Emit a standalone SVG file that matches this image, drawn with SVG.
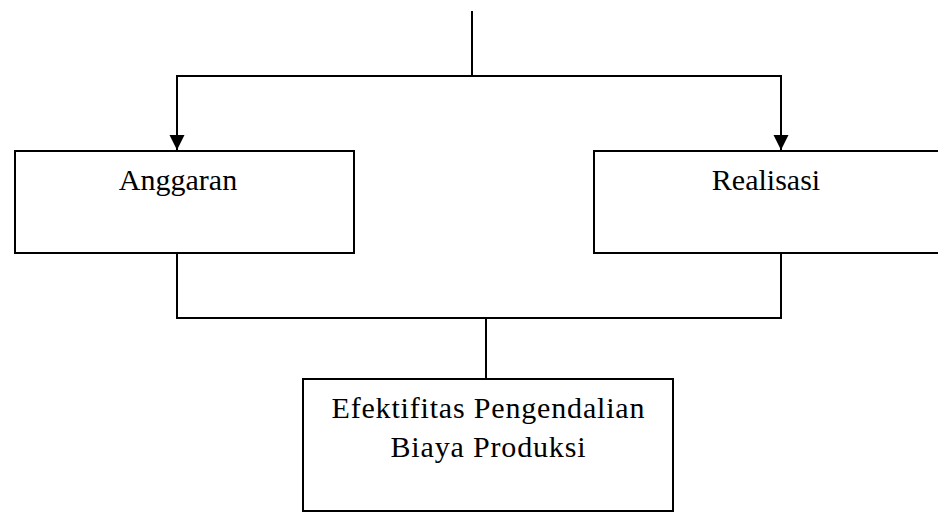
<svg xmlns="http://www.w3.org/2000/svg" width="938" height="512" viewBox="0 0 938 512">
<style>
.box{fill:#fff;stroke:#000;stroke-width:2}
.ln{fill:none;stroke:#000;stroke-width:2}
.t{font-family:"Liberation Serif","Times New Roman",serif;font-size:30px;fill:#000;text-anchor:middle}
</style>
<defs>
<marker id="ah" viewBox="0 0 15 16" refX="15" refY="7.5" markerWidth="15" markerHeight="16" markerUnits="userSpaceOnUse" orient="auto">
<path d="M0,0 L15,7.5 L0,15 Z" fill="#000"/>
</marker>
</defs>
<rect width="938" height="512" fill="#fff"/>
<g id="connectors">
<line class="ln" x1="472" y1="11" x2="472" y2="76"/>
<line class="ln" x1="176" y1="76" x2="782" y2="76"/>
<line class="ln" x1="177" y1="76" x2="177" y2="150" marker-end="url(#ah)"/>
<line class="ln" x1="781" y1="76" x2="781" y2="150" marker-end="url(#ah)"/>
<polyline class="ln" points="177,253 177,318 781,318 781,253"/>
<line class="ln" x1="486" y1="318" x2="486" y2="379"/>
</g>
<g id="anggaran">
<rect class="box" x="15" y="151" width="339" height="102"/>
<text class="t" x="178" y="190">Anggaran</text>
</g>
<g id="realisasi">
<rect class="box" x="594" y="151" width="360" height="102"/>
<text class="t" x="766" y="190">Realisasi</text>
</g>
<g id="efektifitas">
<rect class="box" x="303" y="379" width="370" height="132"/>
<text class="t" x="488" y="418" textLength="313">Efektifitas Pengendalian</text>
<text class="t" x="488" y="457" textLength="195">Biaya Produksi</text>
</g>
</svg>
